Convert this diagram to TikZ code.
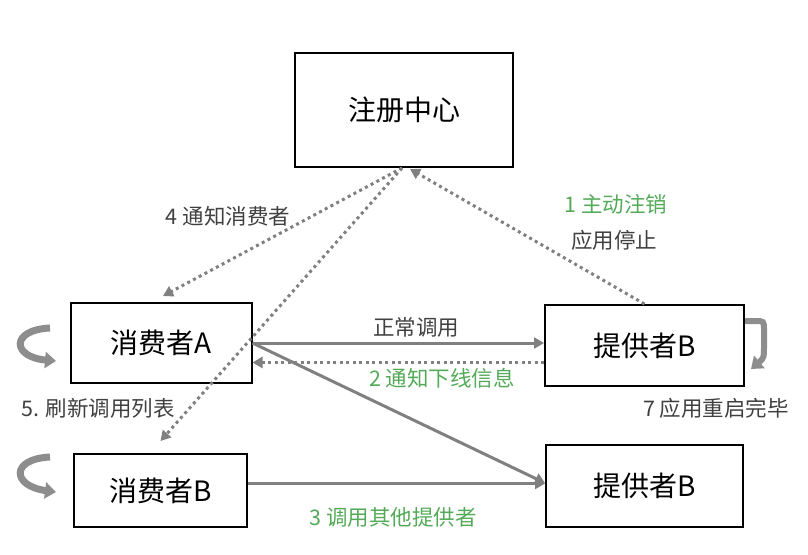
\documentclass[tikz,border=0pt]{standalone}
\usepackage{fontspec}
\setmainfont{Noto Sans CJK SC}
\usetikzlibrary{arrows.meta}
\definecolor{lnGray}{RGB}{128,128,128}
\definecolor{txGray}{RGB}{64,64,64}
\definecolor{txGreen}{RGB}{84,170,88}

\begin{document}
\begin{tikzpicture}[
  x=1pt, y=-1pt,
  >={Triangle[width=11pt,length=10pt]},
  B/.style={draw, line width=2pt, inner sep=0pt, font=\fontsize{28}{32}\selectfont},
  call/.style={draw=lnGray, line width=3pt, ->},
  note/.style={draw=lnGray, line width=3pt, dash pattern=on 3pt off 3.5pt, ->},
  loop/.style={draw=lnGray!90, line width=7pt, -{Triangle[width=16pt,length=11pt]}},
  lbl/.style={font=\fontsize{21.5}{24}\selectfont, text=txGray},
  lblG/.style={lbl, text=txGreen},
]
\useasboundingbox (0,0) rectangle (808,554);

%--- REGISTRY ---
\node[B, minimum width=218pt, minimum height=114pt] (reg) at (404,110) {注册中心};

%--- CONSUMERS ---
\node[B, minimum width=181pt, minimum height=80pt] (conA) at (161,343) {消费者A};
\node[B, minimum width=173pt, minimum height=73pt] (conB) at (160.5,490.5) {消费者B};

%--- PROVIDERS ---
\node[B, minimum width=199pt, minimum height=81pt] (provT) at (644.5,345.5) {提供者B};
\node[B, minimum width=197pt, minimum height=82pt] (provD) at (644.5,486) {提供者B};

%--- LABELS ---
\node[lbl]  (lCall)  at (416,327) {正常调用};
\node[lblG] (lOff)   at (442,378) {2 通知下线信息};
\node[lblG] (lOther) at (393,517) {3 调用其他提供者};
\node[lbl]  (lNote)  at (228,216) {4 通知消费者};
\node[lblG] (lUnreg) at (616,204) {1 主动注销};
\node[lbl]  (lStop)  at (614,240) {应用停止};
\node[lbl]  (lRef)   at (98,408)  {5. 刷新调用列表};
\node[lbl]  (lRest)  at (716,408) {7 应用重启完毕};

%--- ARROWS ---
\draw[call] (conA.east) -- (conA.east -| provT.west);
\draw[note] ([yshift=-17pt]provT.west) -- ([yshift=-17pt]provT.west -| conA.east);
\draw[call] (conA.east) -- ([yshift=3pt]provD.west);
\draw[call] ([yshift=7pt]conB.east) -- ([yshift=7pt]conB.east -| provD.west);
\draw[note] ([xshift=-2pt]reg.south) -- ([xshift=2pt,yshift=6pt]conA.north);
\draw[note] ([xshift=-2pt]reg.south) -- ([yshift=12pt]conB.north);
\draw[note] (provT.north) -- ([xshift=6pt,yshift=-1pt]reg.south);

%--- REFRESH / RESTART LOOPS ---
\draw[loop] (50,328) .. controls (10,330) and (12,357) .. (56,361);
\draw[loop] (50,457) .. controls (10,459) and (12,486) .. (56,492);
\draw[loop, line width=6pt] (745,321) -- (755,321) .. controls (764,321) .. (764,330)
  -- (764,344) .. controls (764,358) .. (751,369);
\end{tikzpicture}
\end{document}
